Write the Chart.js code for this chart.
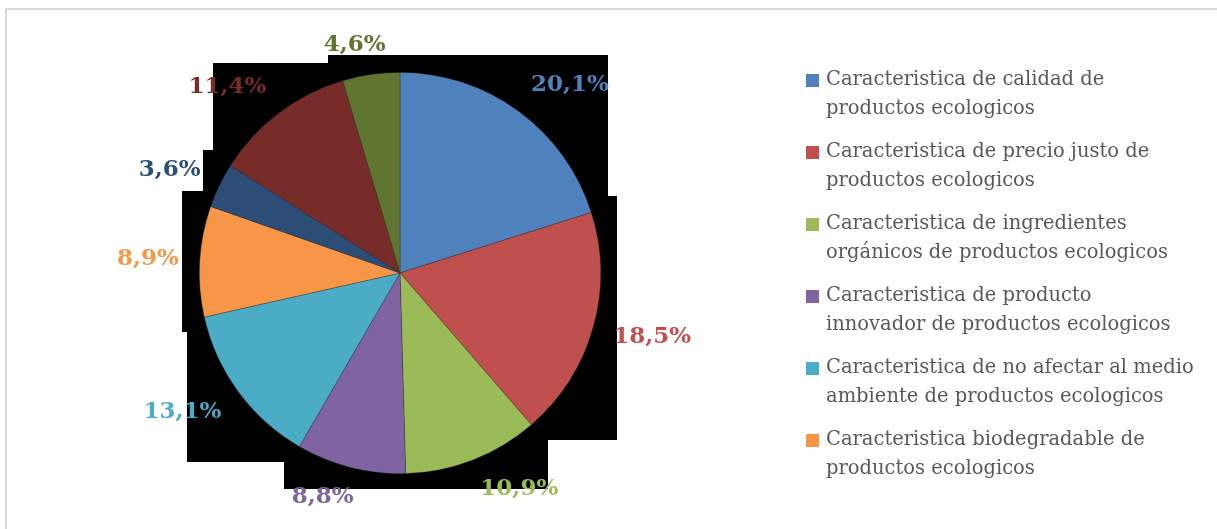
<!DOCTYPE html>
<html>
<head>
<meta charset="utf-8">
<script src="https://cdn.jsdelivr.net/npm/chart.js@4.4.1/dist/chart.umd.min.js"></script>
<style>
  html, body { margin: 0; padding: 0; background: #ffffff; }
  #wrap { width: 1217px; height: 529px; position: relative; }
</style>
</head>
<body>
<div id="wrap"><canvas id="c"></canvas></div>
<script>
// Categories (legend text, pre-broken into lines)
const categories = [
  ['Caracteristica de calidad de', 'productos ecologicos'],
  ['Caracteristica de precio justo de', 'productos ecologicos'],
  ['Caracteristica de ingredientes', 'orgánicos de productos ecologicos'],
  ['Caracteristica de producto', 'innovador de productos ecologicos'],
  ['Caracteristica de no afectar al medio', 'ambiente de productos ecologicos'],
  ['Caracteristica biodegradable de', 'productos ecologicos'],
  [''],
  [''],
  ['']
];

// Share of each characteristic, in percent
const shares = [20.1, 18.5, 10.9, 8.8, 13.1, 8.9, 3.6, 11.4, 4.6];

// Slice colours
const sliceColors = ['#4F81BD', '#C0504D', '#9BBB59', '#8064A2', '#4BACC6',
                     '#F79646', '#2C4D75', '#772C2A', '#5F7530'];

// Number of legend entries that fit in the legend box
const legendCount = 6;

const fmt = v => v.toFixed(1).replace('.', ',') + '%';

// Page background and the thin grey frame
const framePlugin = {
  id: 'frame',
  beforeDraw(chart) {
    const ctx = chart.ctx;
    ctx.save();
    ctx.fillStyle = '#ffffff';
    ctx.fillRect(0, 0, chart.width, chart.height);
    ctx.strokeStyle = '#d9d9d9';
    ctx.lineWidth = 2;
    ctx.beginPath();
    ctx.moveTo(6, chart.height);
    ctx.lineTo(6, 9);
    ctx.lineTo(chart.width, 9);
    ctx.stroke();
    ctx.restore();
  }
};

// Black stepped block behind the pie, outline given in pixels for a 201px radius
const backdropOutline = [
  [-187, -210], [-72, -210], [-72, -218], [208, -218], [208, -77], [217, -77],
  [217, 167], [148, 167], [148, 216], [-116, 216], [-116, 189], [-213, 189],
  [-213, 59], [-218, 59], [-218, -82], [-197, -82], [-197, -123], [-187, -123]
];
const backdropPlugin = {
  id: 'backdrop',
  beforeDatasetsDraw(chart) {
    const arc = chart.getDatasetMeta(0).data[0];
    if (!arc) return;
    const s = arc.outerRadius / 201;
    const ctx = chart.ctx;
    ctx.save();
    ctx.fillStyle = '#000000';
    ctx.beginPath();
    backdropOutline.forEach(([dx, dy], i) => {
      const px = Math.round(arc.x + dx * s), py = Math.round(arc.y + dy * s);
      if (i === 0) ctx.moveTo(px, py); else ctx.lineTo(px, py);
    });
    ctx.closePath();
    ctx.fill();
    ctx.restore();
  }
};

// Percent labels placed just outside each slice
const valueLabelPlugin = {
  id: 'valueLabels',
  afterDatasetsDraw(chart) {
    const ctx = chart.ctx;
    const meta = chart.getDatasetMeta(0);
    const ds = chart.data.datasets[0];
    ctx.save();
    ctx.font = 'bold 23px "DejaVu Serif"';
    ctx.textAlign = 'center';
    ctx.textBaseline = 'middle';
    const gap = 21, hh = 9;
    const clamp = v => Math.max(-1, Math.min(1, v));
    meta.data.forEach((arc, i) => {
      const mid = (arc.startAngle + arc.endAngle) / 2;
      const ux = Math.cos(mid), uy = Math.sin(mid);
      const ax = arc.x + ux * (arc.outerRadius + gap);
      const ay = arc.y + uy * (arc.outerRadius + gap);
      const text = fmt(ds.data[i]);
      const hw = ctx.measureText(text).width / 2;
      const cx = ax + hw * clamp(ux * 3);
      const cy = ay + hh * clamp(uy * 1.5);
      ctx.fillStyle = ds.backgroundColor[i];
      ctx.fillText(text, cx, cy);
    });
    ctx.restore();
  }
};

// Legend on the right with two-line entries
const legendPlugin = {
  id: 'sideLegend',
  afterDraw(chart) {
    const ctx = chart.ctx;
    const ds = chart.data.datasets[0];
    const left = 806, top = 80, box = 13, textX = 826, lineH = 28.5, entryH = 72;
    ctx.save();
    ctx.font = '19.5px "DejaVu Serif"';
    ctx.textAlign = 'left';
    ctx.textBaseline = 'middle';
    for (let i = 0; i < legendCount; i++) {
      const y = top + i * entryH;
      ctx.fillStyle = ds.backgroundColor[i];
      ctx.fillRect(left, Math.round(y - box / 2), box, box);
      ctx.fillStyle = '#595959';
      chart.data.labels[i].forEach((line, j) => {
        ctx.fillText(line, textX, y + j * lineH);
      });
    }
    ctx.restore();
  }
};

new Chart(document.getElementById('c'), {
  type: 'pie',
  data: {
    labels: categories,
    datasets: [{
      data: shares,
      backgroundColor: sliceColors,
      borderColor: 'rgba(50,50,50,0.45)',
      borderWidth: 0.75
    }]
  },
  options: {
    responsive: true,
    maintainAspectRatio: false,
    animation: false,
    layout: { padding: { left: 199, right: 616, top: 72, bottom: 55 } },
    plugins: {
      legend: { display: false },
      tooltip: { enabled: false }
    }
  },
  plugins: [framePlugin, backdropPlugin, valueLabelPlugin, legendPlugin]
});
</script>
</body>
</html>
